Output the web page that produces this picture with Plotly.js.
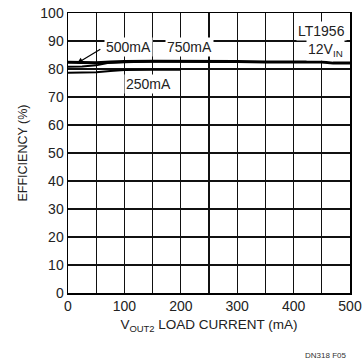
<!DOCTYPE html>
<html><head><meta charset="utf-8">
<script src="https://cdn.plot.ly/plotly-3.0.1.min.js"></script>
<style>body{margin:0;background:#fff}#c{width:363px;height:364px}</style>
</head><body><div id="c"></div>
<script>
var x750 = [0, 15, 25, 50, 75, 100, 150, 200, 250, 300, 350, 400, 450, 470, 500];
var y750 = [82.4, 82.4, 82.2, 82.2, 82.5, 82.7, 82.8, 82.8, 82.8, 82.7, 82.5, 82.5, 82.5, 82.1, 82.1];
var x500 = [0, 25, 50, 70, 100, 150, 200, 250, 300];
var y500 = [80.8, 80.9, 81.3, 82.1, 82.4, 82.7, 82.7, 82.6, 82.5];
var x250 = [0, 25, 50, 75, 100, 150, 200];
var y250 = [78.7, 78.7, 78.8, 79.3, 79.6, 79.7, 79.7];
var xTickStep = 100;
var xGridStep = 50;
var yTickStep = 10;
var xMax = 500, yMax = 100;

var F = 'Arial, "Liberation Sans", sans-serif';
var traces = [
  {x: x250, y: y250, mode: 'lines', line: {color: '#000', width: 2}, hoverinfo: 'none'},
  {x: x500, y: y500, mode: 'lines', line: {color: '#000', width: 2}, hoverinfo: 'none'},
  {x: x750, y: y750, mode: 'lines', line: {color: '#000', width: 3}, hoverinfo: 'none'}
];
var layout = {
  width: 363, height: 364,
  margin: {l: 68, r: 13, t: 13, b: 71},
  paper_bgcolor: '#ffffff', plot_bgcolor: '#ffffff',
  showlegend: false,
  font: {family: F, size: 14, color: '#222'},
  xaxis: {
    range: [0, xMax], tick0: 0, dtick: xTickStep,
    showgrid: true, gridcolor: '#111111', gridwidth: 1.1, zeroline: false,
    minor: {dtick: xGridStep, showgrid: true, gridcolor: '#111111', gridwidth: 1.1, ticks: ''},
    showline: true, linecolor: 'black', linewidth: 1.5, mirror: true,
    ticks: '', tickfont: {size: 14, family: F, color: '#222'},
    title: {text: 'V<sub>OUT2</sub> LOAD CURRENT (mA)', font: {size: 13.5, family: F, color: '#222'}, standoff: 6}
  },
  yaxis: {
    range: [0, yMax], tick0: 0, dtick: yTickStep,
    showgrid: true, gridcolor: '#111111', gridwidth: 1.1, zeroline: false,
    showline: true, linecolor: 'black', linewidth: 1.5, mirror: true,
    ticks: '', tickfont: {size: 14, family: F, color: '#222'},
    title: {text: 'EFFICIENCY (%)', font: {size: 12.5, family: F, color: '#222'}, standoff: 10}
  },
  annotations: [
    {x: 500, y: 93.5, xref: 'x', yref: 'y', text: 'LT1956', showarrow: false, xanchor: 'right', xshift: -3, font: {size: 14, family: F, color: '#222'}, bgcolor: '#fff'},
    {x: 500, y: 86.8, xref: 'x', yref: 'y', text: '12V<sub>IN</sub>', showarrow: false, xanchor: 'right', xshift: -5, font: {size: 14, family: F, color: '#222'}, bgcolor: '#fff'},
    {x: 64, y: 87.8, xref: 'x', yref: 'y', text: '500mA', showarrow: false, xanchor: 'left', font: {size: 14, family: F, color: '#222'}, bgcolor: '#fff'},
    {x: 216, y: 87.8, xref: 'x', yref: 'y', text: '750mA', showarrow: false, xanchor: 'center', font: {size: 14, family: F, color: '#222'}, bgcolor: '#fff'},
    {x: 142, y: 74.5, xref: 'x', yref: 'y', text: '250mA', showarrow: false, xanchor: 'center', font: {size: 14, family: F, color: '#222'}, bgcolor: '#fff'},
    {x: 16, y: 82.0, ax: 60, ay: 87.4, xref: 'x', yref: 'y', axref: 'x', ayref: 'y', text: '', showarrow: true, arrowhead: 2, arrowsize: 1, arrowwidth: 1.2, arrowcolor: '#000'},
    {x: 1, y: 0, xref: 'paper', yref: 'paper', text: 'DN318 F05', showarrow: false, xanchor: 'right', yanchor: 'top', xshift: -2, yshift: -56, font: {size: 8, family: F, color: '#333'}}
  ]
};
Plotly.newPlot('c', traces, layout, {displayModeBar: false, staticPlot: true});
</script></body></html>
